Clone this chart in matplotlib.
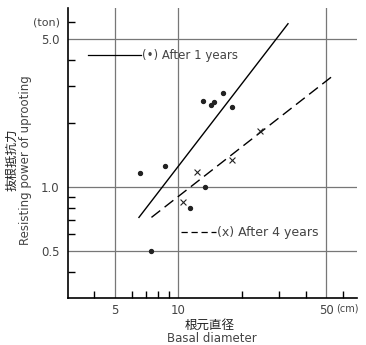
import numpy as np
import matplotlib
matplotlib.use('Agg')
import matplotlib.pyplot as plt
from matplotlib.ticker import FixedLocator, NullFormatter

plt.rcParams['font.family'] = ['DejaVu Sans', 'Noto Sans CJK JP']

# 1年後 (dots)
yr1_x = [6.6, 7.45, 8.6, 11.4, 13.1, 13.3, 14.2, 14.7, 16.3, 18.0]
yr1_y = [1.16, 0.50, 1.26, 0.80, 2.56, 1.00, 2.45, 2.53, 2.79, 2.39]
# 4年後 (crosses)
yr4_x = [10.45, 12.3, 18.0, 24.2]
yr4_y = [0.85, 1.18, 1.34, 1.84]
# regression lines (end points)
fit1_x = [6.5, 33.0]
fit1_y = [0.72, 5.9]
fit4_x = [7.45, 54.0]
fit4_y = [0.72, 3.36]

xmajor = [5, 10, 50]
xlabels = ['5', '10', '50']
ymajor = [0.5, 1.0, 5.0]
ylabels = ['0.5', '1.0', '5.0']

txt = '#444444'
fig = plt.figure(figsize=(3.66, 3.45), dpi=100)
ax = fig.add_axes([68/366, 47/345, 289/366, 290/345])
ax.set_xscale('log')
ax.set_yscale('log')
ax.set_xlim(3, 70)
ax.set_ylim(0.3, 7.0)

for v in xmajor:
    ax.axvline(v, color='#777777', lw=0.9, zorder=1)
for v in ymajor:
    ax.axhline(v, color='#777777', lw=0.9, zorder=1)

ax.plot(fit1_x, fit1_y, color='black', lw=1.0, zorder=3)
ax.plot(fit4_x, fit4_y, color='black', lw=1.0, dashes=(8, 4), zorder=3)
ax.scatter(yr1_x, yr1_y, s=8, color='#222222', zorder=4)
ax.scatter(yr4_x, yr4_y, s=18, marker='x', color='#222222', linewidths=0.8, zorder=4)

# labels for the two series
ax.plot([3.75, 6.68], [4.18, 4.18], color='black', lw=0.9)
ax.text(6.75, 4.18, '(•) After 1 years', fontsize=8.5, color=txt, va='center', ha='left')
ax.plot([10.3, 15.1], [0.612, 0.612], color='black', lw=0.9, dashes=(5, 3))
ax.text(15.2, 0.612, '(x) After 4 years', fontsize=9, color=txt, va='center', ha='left')

for s in ['top', 'right']:
    ax.spines[s].set_visible(False)
for s in ['left', 'bottom']:
    ax.spines[s].set_linewidth(1.2)

ax.xaxis.set_major_locator(FixedLocator(xmajor))
ax.set_xticklabels(xlabels)
ax.xaxis.set_minor_locator(FixedLocator([4, 6, 7, 8, 9, 20, 30, 40, 60]))
ax.xaxis.set_minor_formatter(NullFormatter())
ax.yaxis.set_major_locator(FixedLocator(ymajor))
ax.set_yticklabels(ylabels)
ax.yaxis.set_minor_locator(FixedLocator([0.4, 0.6, 0.7, 0.8, 0.9, 2, 3, 4, 6]))
ax.yaxis.set_minor_formatter(NullFormatter())
ax.tick_params(which='major', length=0, labelsize=8.5, labelcolor=txt)
ax.tick_params(axis='x', which='major', pad=4)
ax.tick_params(axis='y', which='major', pad=6)
ax.tick_params(which='minor', direction='in', length=5, width=1.0)

ax.annotate('(cm)', xy=(56, 0), xycoords=('data', 'axes fraction'),
            xytext=(0, -4), textcoords='offset points', fontsize=7,
            color=txt, ha='left', va='top')
ax.annotate('(ton)', xy=(0, 6.0), xycoords=('axes fraction', 'data'),
            xytext=(-6, 0), textcoords='offset points', fontsize=8,
            color=txt, ha='right', va='center')

fig.text(12/366, 1 - 160/345, '抜根抵抗力', rotation=90, fontsize=9,
         family=['Noto Sans CJK JP'], ha='center', va='center', color='#222222')
fig.text(26/366, 1 - 160/345, 'Resisting power of uprooting', rotation=90,
         fontsize=8.5, ha='center', va='center', color=txt)
fig.text(210/366, 1 - 325/345, '根元直径', fontsize=9,
         family=['Noto Sans CJK JP'], ha='center', va='center', color='#222222')
fig.text(212/366, 1 - 339/345, 'Basal diameter', fontsize=8.5,
         ha='center', va='center', color=txt)

fig.savefig('out.png', dpi=100)
